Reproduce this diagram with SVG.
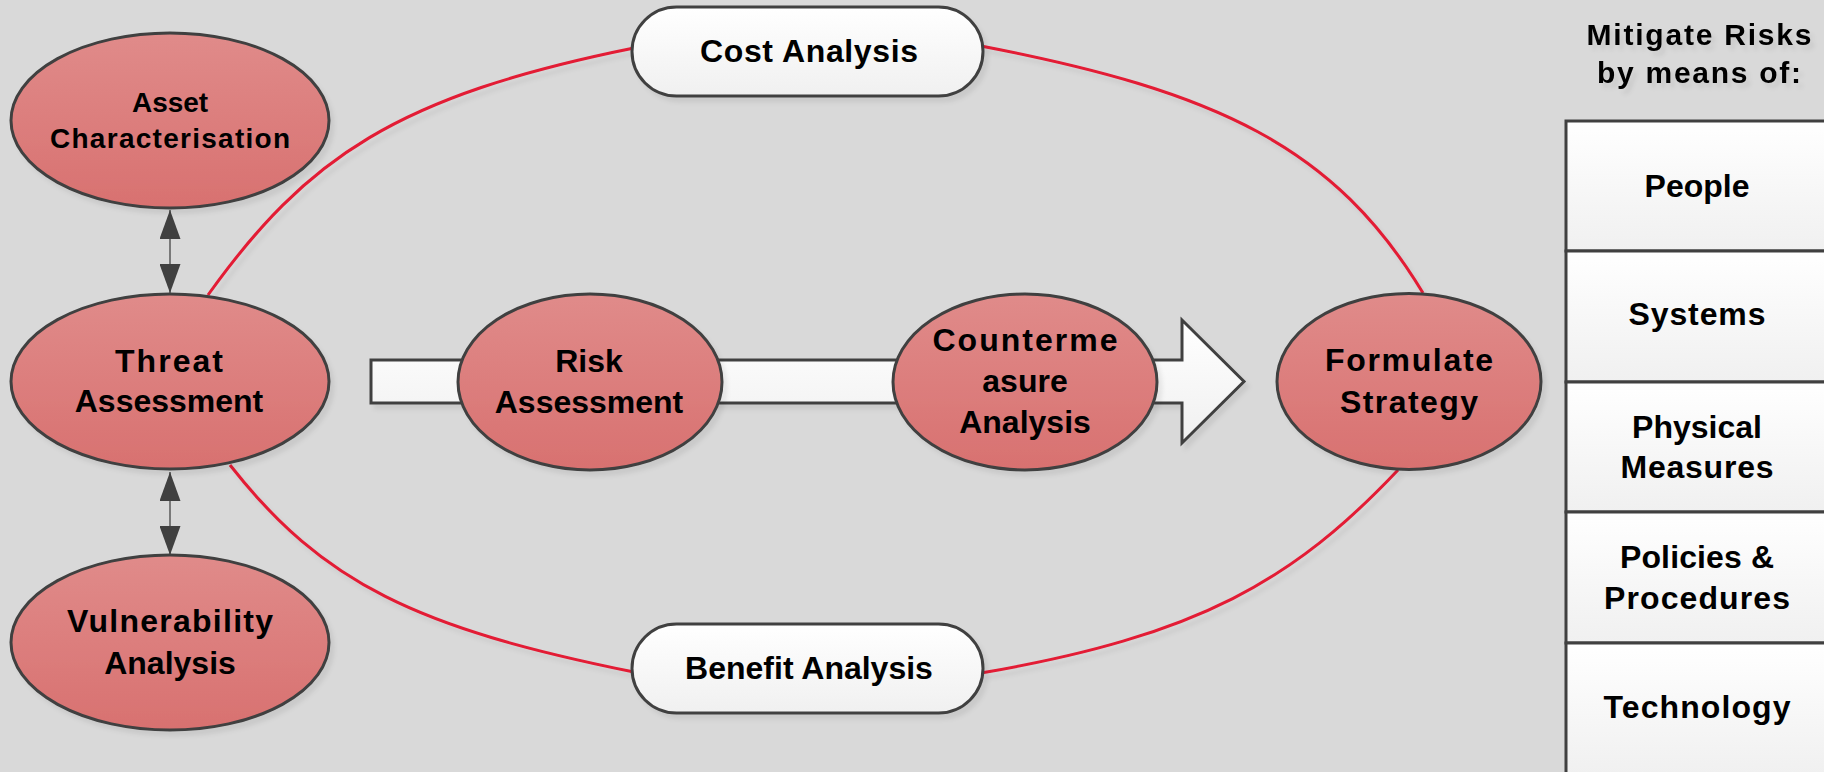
<svg xmlns="http://www.w3.org/2000/svg" width="1824" height="772" viewBox="0 0 1824 772">
<defs>
<linearGradient id="gRed" x1="0" y1="0" x2="0" y2="1">
<stop offset="0" stop-color="#e08b8a"/>
<stop offset="1" stop-color="#d87170"/>
</linearGradient>
<linearGradient id="gWhite" x1="0" y1="0" x2="0" y2="1">
<stop offset="0" stop-color="#ffffff"/>
<stop offset="1" stop-color="#f0f0f0"/>
</linearGradient>
<filter id="sh" x="-10%" y="-10%" width="125%" height="130%">
<feDropShadow dx="4" dy="5" stdDeviation="2" flood-color="#000" flood-opacity="0.07"/>
</filter>
<marker id="ah" markerUnits="userSpaceOnUse" markerWidth="29" markerHeight="21" refX="29" refY="10.5" orient="auto-start-reverse">
<path d="M0,0 L29,10.5 L0,21 z" fill="#404040"/>
</marker>
</defs>
<style>
.node{fill:url(#gRed);stroke:#404040;stroke-width:3;filter:url(#sh)}
.pill{fill:url(#gWhite);stroke:#404040;stroke-width:3;filter:url(#sh)}
.cell{fill:url(#gWhite);stroke:#404040;stroke-width:3}
.t{font-family:"Liberation Sans",Arial,sans-serif;font-weight:bold;font-size:32px;fill:#000;text-anchor:middle}
.s{font-size:28px}
.red{fill:none;stroke:#e31b34;stroke-width:3;filter:url(#sh)}
.dbl{stroke:#595959;stroke-width:1.5;marker-start:url(#ah);marker-end:url(#ah)}
</style>
<rect x="0" y="0" width="1824" height="772" fill="#d9d9d9"/>

<g id="connectors">
<path class="red" d="M208,295 C306.6,157.3 396.8,96 634,48"/>
<path class="red" d="M981,46 C1218,91.6 1334.6,146.8 1423,293"/>
<path class="red" d="M1398,470 C1294.5,579.5 1199.7,635.6 981,673"/>
<path class="red" d="M230,465 C323,583.5 416.4,628 634,672"/>
<line class="dbl" x1="170" y1="210" x2="170" y2="293"/>
<line class="dbl" x1="170" y1="472" x2="170" y2="555"/>
</g>

<g id="flow-arrow">
<polygon points="371,360 1182,360 1182,320 1244,381.5 1182,443 1182,403 371,403" fill="url(#gWhite)" stroke="#404040" stroke-width="3" filter="url(#sh)"/>
</g>

<g id="asset-characterisation">
<ellipse class="node" cx="170" cy="120.5" rx="159" ry="87.5"/>
<text class="t s" x="170" y="111.7" textLength="76" lengthAdjust="spacing">Asset</text>
<text class="t s" x="170" y="148.3" textLength="240" lengthAdjust="spacing">Characterisation</text>
</g>

<g id="threat-assessment">
<ellipse class="node" cx="170" cy="381.5" rx="159" ry="87.5"/>
<text class="t" x="169" y="372" textLength="108" lengthAdjust="spacing">Threat</text>
<text class="t" x="169" y="412">Assessment</text>
</g>

<g id="vulnerability-analysis">
<ellipse class="node" cx="170" cy="642.5" rx="159" ry="87.5"/>
<text class="t" x="170" y="632" textLength="206" lengthAdjust="spacing">Vulnerability</text>
<text class="t" x="170" y="674">Analysis</text>
</g>

<g id="risk-assessment">
<ellipse class="node" cx="590" cy="382" rx="132" ry="88"/>
<text class="t" x="589" y="372">Risk</text>
<text class="t" x="589" y="413">Assessment</text>
</g>

<g id="countermeasure-analysis">
<ellipse class="node" cx="1025" cy="382" rx="132" ry="88"/>
<text class="t" x="1025" y="351" textLength="185" lengthAdjust="spacing">Counterme</text>
<text class="t" x="1025" y="392">asure</text>
<text class="t" x="1025" y="433">Analysis</text>
</g>

<g id="formulate-strategy">
<ellipse class="node" cx="1409" cy="381.5" rx="132" ry="88"/>
<text class="t" x="1409" y="371" textLength="168" lengthAdjust="spacing">Formulate</text>
<text class="t" x="1409" y="413" textLength="138" lengthAdjust="spacing">Strategy</text>
</g>

<g id="cost-analysis">
<rect class="pill" x="632" y="7" width="351" height="89" rx="44.5" ry="44.5"/>
<text class="t" x="809" y="62" textLength="218" lengthAdjust="spacing">Cost Analysis</text>
</g>

<g id="benefit-analysis">
<rect class="pill" x="632" y="624" width="351" height="89" rx="44.5" ry="44.5"/>
<text class="t" x="809" y="679">Benefit Analysis</text>
</g>

<g id="table-title" filter="url(#sh)">
<text class="t" x="1699" y="45" font-size="30" textLength="225" lengthAdjust="spacing" style="font-size:30px">Mitigate Risks</text>
<text class="t" x="1699" y="83" style="font-size:30px" textLength="204" lengthAdjust="spacing">by means of:</text>
</g>

<g id="people">
<rect class="cell" x="1566" y="121" width="264" height="130"/>
<text class="t" x="1697" y="197">People</text>
</g>
<g id="systems">
<rect class="cell" x="1566" y="251" width="264" height="131"/>
<text class="t" x="1697" y="325" textLength="137" lengthAdjust="spacing">Systems</text>
</g>
<g id="physical-measures">
<rect class="cell" x="1566" y="382" width="264" height="130"/>
<text class="t" x="1697" y="438">Physical</text>
<text class="t" x="1697" y="478" textLength="153" lengthAdjust="spacing">Measures</text>
</g>
<g id="policies-procedures">
<rect class="cell" x="1566" y="512" width="264" height="131"/>
<text class="t" x="1697" y="568" textLength="154" lengthAdjust="spacing">Policies &amp;</text>
<text class="t" x="1697" y="609" textLength="186" lengthAdjust="spacing">Procedures</text>
</g>
<g id="technology">
<rect class="cell" x="1566" y="643" width="264" height="131"/>
<text class="t" x="1697" y="718" textLength="187" lengthAdjust="spacing">Technology</text>
</g>
</svg>
